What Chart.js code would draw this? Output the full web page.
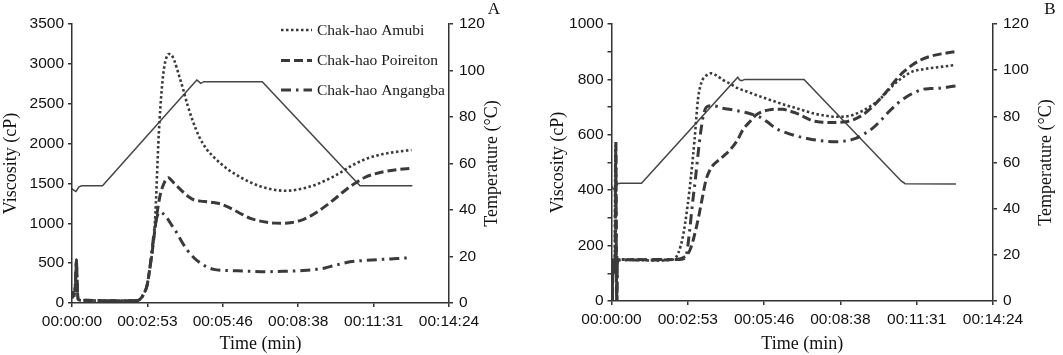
<!DOCTYPE html>
<html><head><meta charset="utf-8">
<script src="https://cdn.jsdelivr.net/npm/chart.js@4/dist/chart.umd.min.js"></script>
<style>
html,body{margin:0;padding:0;background:#fff;}
#wrap{position:relative;width:1063px;height:355px;overflow:hidden;background:#fff;}
canvas{position:absolute;top:0;}
</style></head><body>
<div id="wrap">
<canvas id="chartA" width="540" height="355" style="left:0"></canvas>
<canvas id="chartB" width="523" height="355" style="left:540px"></canvas>
</div>
<script>
// ---------- shared axis data ----------
const timeTickSec = [0, 172.8, 345.6, 518.4, 691.2, 864];
const timeTickLabels = ['00:00:00', '00:02:53', '00:05:46', '00:08:38', '00:11:31', '00:14:24'];
const seriesNames = ['Chak-hao Amubi', 'Chak-hao Poireiton', 'Chak-hao Angangba'];

// ---------- Panel A ----------
const tempA_t = [0, 4, 9, 16, 22, 70, 286, 290, 295, 302, 436, 660, 780];
const tempA_v = [49.2, 48.5, 48, 50, 50.4, 50.4, 95.9, 95.3, 94.5, 95.2, 95.2, 50.4, 50.4];

const amubiA_t = [0, 2, 5, 8, 10, 12, 14, 20, 60, 120, 150, 158, 165, 172, 178, 184, 190, 199, 206, 212, 218, 222, 228, 234, 245, 253, 265, 276, 292, 310, 325, 340, 355, 371, 390, 409, 428, 447, 466, 485, 504, 523, 542, 561, 580, 599, 618, 637, 656, 675, 694, 713, 745, 778];
const amubiA_v = [60, 130, 90, 260, 540, 220, 50, 35, 30, 28, 30, 60, 120, 220, 420, 650, 1000, 2130, 2700, 2980, 3100, 3124, 3110, 3049, 2860, 2714, 2480, 2296, 2080, 1919, 1830, 1752, 1685, 1627, 1565, 1514, 1470, 1439, 1418, 1409, 1412, 1430, 1455, 1489, 1535, 1585, 1645, 1710, 1765, 1811, 1843, 1869, 1898, 1919];

const poireitonA_t = [0, 2, 5, 8, 10, 12, 14, 20, 60, 120, 150, 158, 165, 172, 178, 184, 190, 197, 203, 210, 216, 221, 228, 235, 242, 255, 268, 280, 295, 310, 325, 341, 356, 371, 390, 409, 428, 447, 466, 485, 504, 523, 542, 561, 580, 599, 618, 637, 656, 675, 694, 714, 745, 778];
const poireitonA_v = [60, 130, 90, 260, 540, 220, 50, 35, 30, 28, 30, 60, 120, 220, 420, 650, 920, 1200, 1376, 1490, 1555, 1572, 1540, 1495, 1459, 1390, 1330, 1292, 1278, 1271, 1260, 1242, 1208, 1167, 1112, 1062, 1032, 1012, 1002, 1000, 1010, 1033, 1078, 1138, 1212, 1292, 1378, 1459, 1528, 1585, 1620, 1647, 1672, 1690];

const angangbaA_t = [0, 2, 5, 8, 10, 12, 14, 20, 60, 120, 150, 158, 165, 172, 178, 184, 190, 196, 203, 210, 218, 228, 241, 252, 264, 280, 295, 310, 325, 345, 371, 410, 447, 485, 523, 561, 580, 599, 618, 637, 675, 713, 745, 778];
const angangbaA_v = [60, 130, 90, 260, 540, 220, 50, 35, 30, 28, 30, 60, 120, 220, 420, 700, 960, 1100, 1140, 1115, 1065, 980, 874, 765, 665, 565, 498, 450, 422, 410, 405, 398, 393, 397, 406, 422, 440, 468, 493, 518, 535, 548, 558, 569];

// ---------- Panel B ----------
const tempB_t = [0, 4, 8, 14, 20, 68, 286, 290, 295, 302, 436, 656, 665, 780];
const tempB_v = [50, 48.5, 48.8, 50.8, 51, 51, 96.9, 95.8, 95.4, 96, 96, 52, 50.8, 50.7];

const amubiB_t = [0, 1, 2, 3, 5, 7, 9, 10, 11, 12, 13, 15, 20, 60, 100, 139, 151, 162, 172, 180, 188, 196, 204, 212, 226, 240, 252, 270, 286, 305, 327, 350, 372, 395, 418, 440, 463, 485, 508, 538, 568, 590, 606, 625, 644, 662, 681, 700, 719, 750, 779];
const amubiB_v = [140, 100, 0, 130, 150, 110, 560, 130, 150, 0, 160, 145, 150, 148, 146, 150, 172, 235, 340, 450, 580, 730, 790, 810, 822, 812, 798, 783, 768, 757, 744, 731, 719, 707, 696, 685, 675, 669, 665, 668, 686, 707, 726, 757, 788, 810, 828, 835, 840, 846, 852];

const poireitonB_t = [0, 1, 2, 3, 5, 7, 9, 10, 11, 12, 13, 15, 20, 60, 100, 140, 160, 170, 178, 185, 192, 199, 206, 214, 222, 230, 240, 255, 268, 285, 297, 312, 327, 342, 357, 372, 388, 403, 418, 437, 455, 474, 493, 512, 531, 550, 568, 587, 606, 625, 644, 662, 681, 700, 719, 750, 779];
const poireitonB_v = [130, 150, 0, 100, 140, 120, 150, 580, 140, 0, 150, 150, 148, 150, 148, 150, 155, 165, 185, 220, 265, 317, 375, 437, 470, 490, 505, 525, 545, 580, 617, 645, 671, 684, 690, 692, 692, 686, 678, 664, 651, 646, 644, 645, 647, 656, 671, 695, 726, 760, 798, 828, 852, 870, 882, 893, 900];

const angangbaB_t = [0, 1, 2, 3, 5, 7, 8, 9.5, 11, 12, 13, 15, 20, 60, 100, 140, 162, 170, 177, 184, 190, 196, 202, 208, 215, 226, 240, 252, 275, 297, 316, 335, 354, 372, 395, 418, 440, 463, 485, 508, 530, 553, 572, 591, 610, 628, 647, 666, 685, 704, 722, 741, 760, 779];
const angangbaB_v = [150, 120, 0, 140, 100, 150, 130, 540, 150, 0, 140, 150, 150, 148, 150, 150, 152, 170, 255, 360, 440, 530, 610, 670, 700, 705, 702, 696, 690, 683, 675, 665, 645, 623, 608, 596, 588, 581, 577, 575, 578, 587, 603, 623, 652, 683, 712, 735, 752, 764, 767, 768, 772, 776];

// ---------- helpers ----------
const pts = (ts, vs) => ts.map((t, i) => ({ x: t, y: vs[i] }));
const LINE = '#3a3a3a';
const AXIS = '#333';
const SANS = "'Liberation Sans', Arial, sans-serif";
const SERIF = "'Liberation Serif', 'Times New Roman', serif";
const styles = [
  { borderDash: [2.5, 2.5], borderWidth: 2.6 },
  { borderDash: [9, 4], borderWidth: 3 },
  { borderDash: [10, 5, 2.5, 5], borderWidth: 3 }
];

function seriesDataset(name, data, st) {
  return {
    label: name, data, yAxisID: 'y', borderColor: LINE, backgroundColor: LINE,
    borderWidth: st.borderWidth, borderDash: st.borderDash, pointRadius: 0,
    cubicInterpolationMode: 'monotone', fill: false, borderCapStyle: 'butt'
  };
}
function tempDataset(data) {
  return {
    label: 'Temperature', data, yAxisID: 'yT', borderColor: '#454545',
    borderWidth: 1.5, pointRadius: 0, tension: 0, fill: false
  };
}

const decorPlugin = {
  id: 'decor',
  afterDraw(chart, args, o) {
    const ctx = chart.ctx;
    const ca = chart.chartArea;
    ctx.save();
    ctx.fillStyle = '#111';
    ctx.font = '18px ' + SERIF;
    ctx.textAlign = 'center';
    ctx.textBaseline = 'middle';
    ctx.translate(o.tempTitleX, (ca.top + ca.bottom) / 2);
    ctx.rotate(-Math.PI / 2);
    ctx.fillText('Temperature (\u00B0C)', 0, 0);
    ctx.restore();
    ctx.save();
    ctx.fillStyle = '#111';
    ctx.font = '17px ' + SERIF;
    ctx.textAlign = 'center';
    ctx.textBaseline = 'middle';
    ctx.fillText(o.letter, o.letterX, 10);
    ctx.restore();
    if (o.legend) {
      const rows = [30, 60.5, 90];
      chart.data.datasets.forEach((ds, i) => {
        if (ds.yAxisID !== 'y') return;
        ctx.save();
        ctx.strokeStyle = ds.borderColor;
        ctx.lineWidth = ds.borderWidth;
        ctx.setLineDash(ds.borderDash || []);
        ctx.beginPath();
        ctx.moveTo(281, rows[i]);
        ctx.lineTo(312, rows[i]);
        ctx.stroke();
        ctx.setLineDash([]);
        ctx.fillStyle = '#1a1a1a';
        ctx.font = '15.5px ' + SERIF;
        ctx.textAlign = 'left';
        ctx.textBaseline = 'middle';
        ctx.fillText(ds.label, 317, rows[i] + 0.5);
        ctx.restore();
      });
    }
  }
};

function makeChart(id, cfg) {
  const tickFont = { family: SANS, size: 15.5 };
  return new Chart(document.getElementById(id), {
    type: 'line',
    data: {
      datasets: [
        seriesDataset(seriesNames[0], cfg.amubi, styles[0]),
        seriesDataset(seriesNames[1], cfg.poireiton, styles[1]),
        seriesDataset(seriesNames[2], cfg.angangba, styles[2]),
        tempDataset(cfg.temp)
      ]
    },
    options: {
      responsive: false,
      animation: false,
      events: [],
      layout: { padding: { top: 24, left: 0, right: 0, bottom: 0 } },
      plugins: {
        legend: { display: false },
        tooltip: { enabled: false },
        decor: cfg.decor
      },
      scales: {
        x: {
          type: 'linear', min: 0, max: 864,
          afterBuildTicks: s => { s.ticks = timeTickSec.map(v => ({ value: v })); },
          ticks: { callback: (v, i) => timeTickLabels[i], font: tickFont, color: '#111', padding: 5, maxRotation: 0, autoSkip: false },
          grid: { drawOnChartArea: false, tickLength: 4, color: AXIS, lineWidth: 1.5 },
          border: { color: AXIS, width: 1.5 },
          title: { display: true, text: 'Time (min)', font: { family: SERIF, size: 18 }, color: '#111', padding: 0 },
          afterFit: s => { s.height = cfg.xHeight; }
        },
        y: {
          position: 'left', min: 0, max: cfg.vMax,
          ticks: { stepSize: cfg.vStep, font: tickFont, color: '#111', padding: 4,
                   callback: v => (v % cfg.vLabelStep === 0 ? String(v) : '') },
          grid: { drawOnChartArea: false, tickLength: 4, color: AXIS, lineWidth: 1.5 },
          border: { color: AXIS, width: 1.5 },
          title: { display: true, text: 'Viscosity (cP)', font: { family: SERIF, size: 18 }, color: '#111', padding: { top: cfg.leftTitlePad, bottom: 0 } },
          afterFit: s => { s.width = cfg.leftWidth; }
        },
        yT: {
          position: 'right', min: 0, max: 120,
          ticks: { stepSize: 20, font: tickFont, color: '#111', padding: 6 },
          grid: { drawOnChartArea: false, tickLength: 4, color: AXIS, lineWidth: 1.5 },
          border: { color: AXIS, width: 1.5 },
          afterFit: s => { s.width = cfg.rightWidth; }
        }
      }
    },
    plugins: [decorPlugin]
  });
}

makeChart('chartA', {
  amubi: pts(amubiA_t, amubiA_v),
  poireiton: pts(poireitonA_t, poireitonA_v),
  angangba: pts(angangbaA_t, angangbaA_v),
  temp: pts(tempA_t, tempA_v),
  vMax: 3500, vStep: 500, vLabelStep: 500,
  xHeight: 52, leftWidth: 72, rightWidth: 91, leftTitlePad: 0,
  decor: { tempTitleX: 492, letter: 'A', letterX: 494, legend: true }
});

makeChart('chartB', {
  amubi: pts(amubiB_t, amubiB_v),
  poireiton: pts(poireitonB_t, poireitonB_v),
  angangba: pts(angangbaB_t, angangbaB_v),
  temp: pts(tempB_t, tempB_v),
  vMax: 1000, vStep: 100, vLabelStep: 200,
  xHeight: 54, leftWidth: 71.5, rightWidth: 70, leftTitlePad: 7.2,
  decor: { tempTitleX: 506, letter: 'B', letterX: 510, legend: false }
});
</script>
</body></html>
